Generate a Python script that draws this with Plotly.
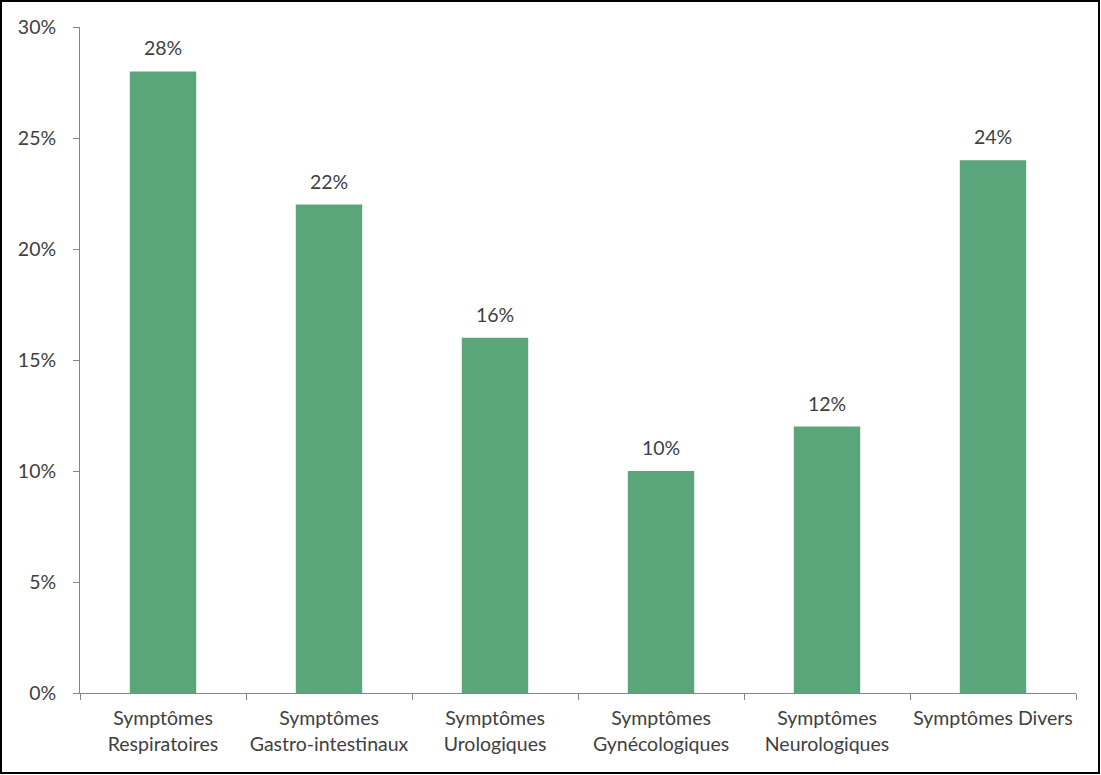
import plotly.graph_objects as go

categories = [
    "Symptômes<br>Respiratoires",
    "Symptômes<br>Gastro-intestinaux",
    "Symptômes<br>Urologiques",
    "Symptômes<br>Gynécologiques",
    "Symptômes<br>Neurologiques",
    "Symptômes Divers",
]
values = [0.28, 0.22, 0.16, 0.10, 0.12, 0.24]
y_ticks = [0, 0.05, 0.10, 0.15, 0.20, 0.25, 0.30]
y_tick_labels = ["0%", "5%", "10%", "15%", "20%", "25%", "30%"]

W, H = 1101, 775
ML, MR, MT, MB = 80, 25, 27, 82
PW, PH = W - ML - MR, H - MT - MB

BAR = "#5BA57B"
TXT = "#404040"
AXIS = "#868686"
FONT = "Lato, Carlito, 'Open Sans', sans-serif"

fig = go.Figure(go.Bar(
    x=categories, y=values, marker=dict(color=BAR, line=dict(width=0)),
    hoverinfo="skip",
))

for c, v in zip(categories, values):
    fig.add_annotation(
        x=c, y=v, text=f"{round(v * 100)}%", showarrow=False,
        yanchor="bottom", yshift=10, font=dict(size=19.5, color=TXT, family=FONT),
    )

# outer frame around the whole chart
fig.add_shape(
    type="rect", xref="paper", yref="paper",
    x0=(1 - ML) / PW, x1=(W - 2 - ML) / PW,
    y0=(PH + MT - (H - 2)) / PH, y1=(PH + MT - 1) / PH,
    line=dict(color="black", width=2), fillcolor="rgba(0,0,0,0)",
)

fig.update_layout(
    width=W, height=H,
    margin=dict(l=ML, r=MR, t=MT, b=MB, autoexpand=False),
    paper_bgcolor="white", plot_bgcolor="white",
    bargap=0.6, showlegend=False,
    font=dict(family=FONT, color=TXT, size=19.5),
)
fig.update_xaxes(
    showline=True, linecolor=AXIS, linewidth=1,
    ticks="outside", tickson="boundaries", ticklen=6, tickcolor=AXIS,
    showgrid=False, ticklabelstandoff=8, tickangle=0, automargin=False,
    tickfont=dict(size=19.5, color=TXT, family=FONT),
)
fig.update_yaxes(
    range=[0, 0.30], tickvals=y_ticks, ticktext=y_tick_labels,
    showline=True, linecolor=AXIS, linewidth=1,
    ticks="outside", ticklen=6, tickcolor=AXIS,
    showgrid=False, zeroline=False, ticklabelstandoff=13, automargin=False,
    tickfont=dict(size=19.5, color=TXT, family=FONT),
)

fig.write_html("out.html")
